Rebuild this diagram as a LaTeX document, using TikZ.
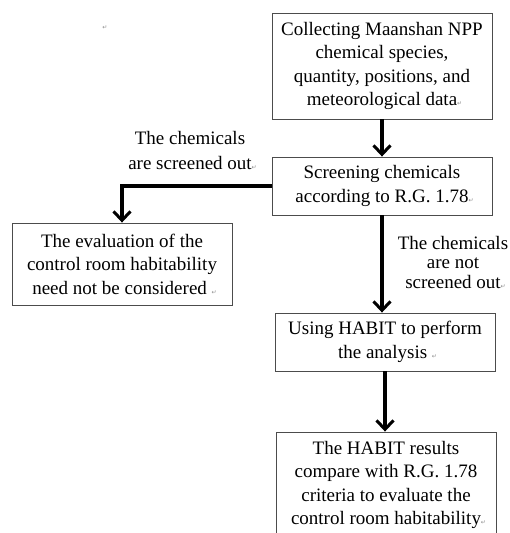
\documentclass[tikz,border=0pt]{standalone}
\usepackage{fontspec}
\setmainfont{Liberation Serif}
\newfontfamily\markfont{DejaVu Sans}
\usetikzlibrary{arrows.meta}
\begin{document}
\begin{tikzpicture}[x=1pt,y=-1pt,
  box/.style={draw=black!70, line width=0.9pt, minimum width=220pt, inner sep=0pt, align=center,
    font=\fontsize{19}{23.5}\selectfont},
  lbl/.style={align=center, inner sep=0pt},
  flow/.style={line width=3.2pt, -{Straight Barb[length=9pt,width=17pt,line width=3pt]}},
  pm/.style={text=black!45, font=\markfont\fontsize{6}{6}\selectfont, inner sep=0pt}
]
\useasboundingbox (0,0) rectangle (509,533);
\begin{scope}
\clip (0,0) rectangle (509,533);
\node[pm] (m0) at (105,28) {↵};
\node[box, minimum height=106pt] (b1) at (382,66)
  {Collecting Maanshan NPP\\chemical species,\\quantity, positions, and\\meteorological data\rlap{\markfont\fontsize{6}{6}\selectfont\textcolor{black!45}{↵}}};
\node[box, minimum height=58pt] (b2) at (382,186)
  {Screening chemicals\\according to R.G. 1.78\rlap{\markfont\fontsize{6}{6}\selectfont\textcolor{black!45}{↵}}};
\node[box, minimum height=82pt] (b3) at (122,264)
  {The evaluation of the\\control room habitability\\need not be considered \rlap{\markfont\fontsize{6}{6}\selectfont\textcolor{black!45}{↵}}};
\node[box, minimum height=58pt] (b4) at (385,342)
  {Using HABIT to perform\\the analysis \rlap{\markfont\fontsize{6}{6}\selectfont\textcolor{black!45}{↵}}};
\node[box, minimum height=106pt] (b5) at (386,485)
  {The HABIT results\\compare with R.G. 1.78\\criteria to evaluate the\\control room habitability\rlap{\markfont\fontsize{6}{6}\selectfont\textcolor{black!45}{↵}}};
\node[lbl, font=\fontsize{19}{25}\selectfont] (l1) at (190,150)
  {The chemicals\\are screened out\rlap{\markfont\fontsize{6}{6}\selectfont\textcolor{black!45}{↵}}};
\node[lbl, font=\fontsize{19}{19.5}\selectfont] (l2) at (453,262)
  {The chemicals\\are not\\screened out\rlap{\markfont\fontsize{6}{6}\selectfont\textcolor{black!45}{↵}}};
\draw[flow] (b1.south) -- (b2.north);
\draw[flow] (b2.west) -| (b3.north);
\draw[flow] (b2.south) -- (b2.south |- b4.north);
\draw[flow] (b4.south) -- (b4.south |- b5.north);
\end{scope}
\end{tikzpicture}
\end{document}
